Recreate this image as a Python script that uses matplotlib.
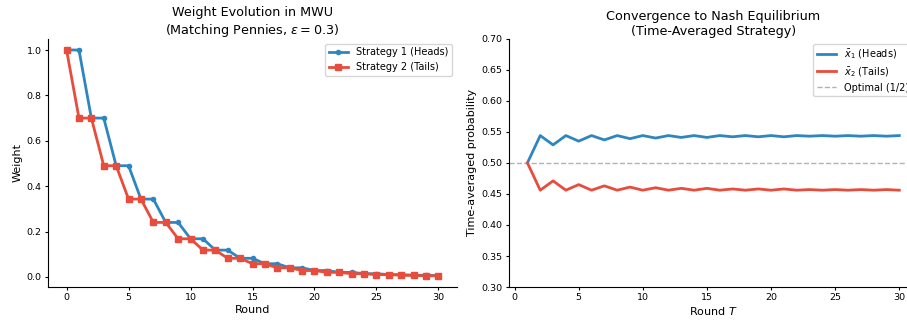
import numpy as np
import matplotlib
matplotlib.use("Agg")
import matplotlib.pyplot as plt

# MWU weights per round
rounds = list(range(0, 31))
w_heads = [1.0, 1.0, 0.7, 0.7, 0.49, 0.49, 0.343, 0.343, 0.240, 0.240,
           0.168, 0.168, 0.118, 0.118, 0.082, 0.082, 0.058, 0.058, 0.040, 0.040,
           0.028, 0.028, 0.020, 0.020, 0.014, 0.014, 0.010, 0.010, 0.007, 0.007,
           0.005]
w_tails = [1.0, 0.7, 0.7, 0.49, 0.49, 0.343, 0.343, 0.240, 0.240, 0.168,
           0.168, 0.118, 0.118, 0.082, 0.082, 0.058, 0.058, 0.040, 0.040, 0.028,
           0.028, 0.020, 0.020, 0.014, 0.014, 0.010, 0.010, 0.007, 0.007, 0.005,
           0.005]

# time-averaged strategy, T = 1..30
T = list(range(1, 31))
xbar_heads = [0.500, 0.544, 0.529, 0.544, 0.535, 0.544, 0.537, 0.544, 0.539, 0.544,
              0.540, 0.544, 0.541, 0.544, 0.541, 0.544, 0.542, 0.544, 0.542, 0.544,
              0.542, 0.544, 0.543, 0.544, 0.543, 0.544, 0.543, 0.544, 0.543, 0.544]
xbar_tails = [0.500, 0.456, 0.471, 0.456, 0.465, 0.456, 0.463, 0.456, 0.461, 0.456,
              0.460, 0.456, 0.459, 0.456, 0.459, 0.456, 0.458, 0.456, 0.458, 0.456,
              0.458, 0.456, 0.457, 0.456, 0.457, 0.456, 0.457, 0.456, 0.457, 0.456]
optimal = 0.5

blue = "#2e86c1"
red = "#e74c3c"

fig = plt.figure(figsize=(9.07, 3.2), dpi=100)
ax1 = fig.add_axes([0.0529, 0.103, 0.451, 0.776])
ax2 = fig.add_axes([0.561, 0.103, 0.451, 0.776])

# left: weights
ax1.plot(rounds, w_heads, marker="o", markersize=3, linewidth=2, color=blue,
         label="Strategy 1 (Heads)")
ax1.plot(rounds, w_tails, marker="s", markersize=4, linewidth=2, color=red,
         label="Strategy 2 (Tails)")
ax1.set_title("Weight Evolution in MWU\n(Matching Pennies, $\\epsilon = 0.3$)",
              fontsize=9.2, pad=3)
ax1.set_xlabel("Round", fontsize=8, labelpad=2)
ax1.set_ylabel("Weight", fontsize=8, labelpad=3)
ax1.legend(fontsize=7, loc="upper right")

# right: time-averaged strategy
ax2.plot(T, xbar_heads, linewidth=2, color=blue, label="$\\bar{x}_1$ (Heads)")
ax2.plot(T, xbar_tails, linewidth=2, color=red, label="$\\bar{x}_2$ (Tails)")
ax2.axhline(optimal, color="gray", linestyle="--", linewidth=1, alpha=0.6,
            label="Optimal (1/2)")
ax2.set_ylim(0.3, 0.7)
ax2.set_title("Convergence to Nash Equilibrium\n(Time-Averaged Strategy)",
              fontsize=9.2, pad=3)
ax2.set_xlabel("Round $T$", fontsize=8, labelpad=2)
ax2.set_ylabel("Time-averaged probability", fontsize=8, labelpad=3)
ax2.legend(fontsize=7, loc="upper right", labelspacing=0.4)

for ax in (ax1, ax2):
    ax.spines["top"].set_visible(False)
    ax.spines["right"].set_visible(False)
    ax.tick_params(labelsize=6.8, length=2.5, pad=2)

fig.savefig("out.png", dpi=100)
